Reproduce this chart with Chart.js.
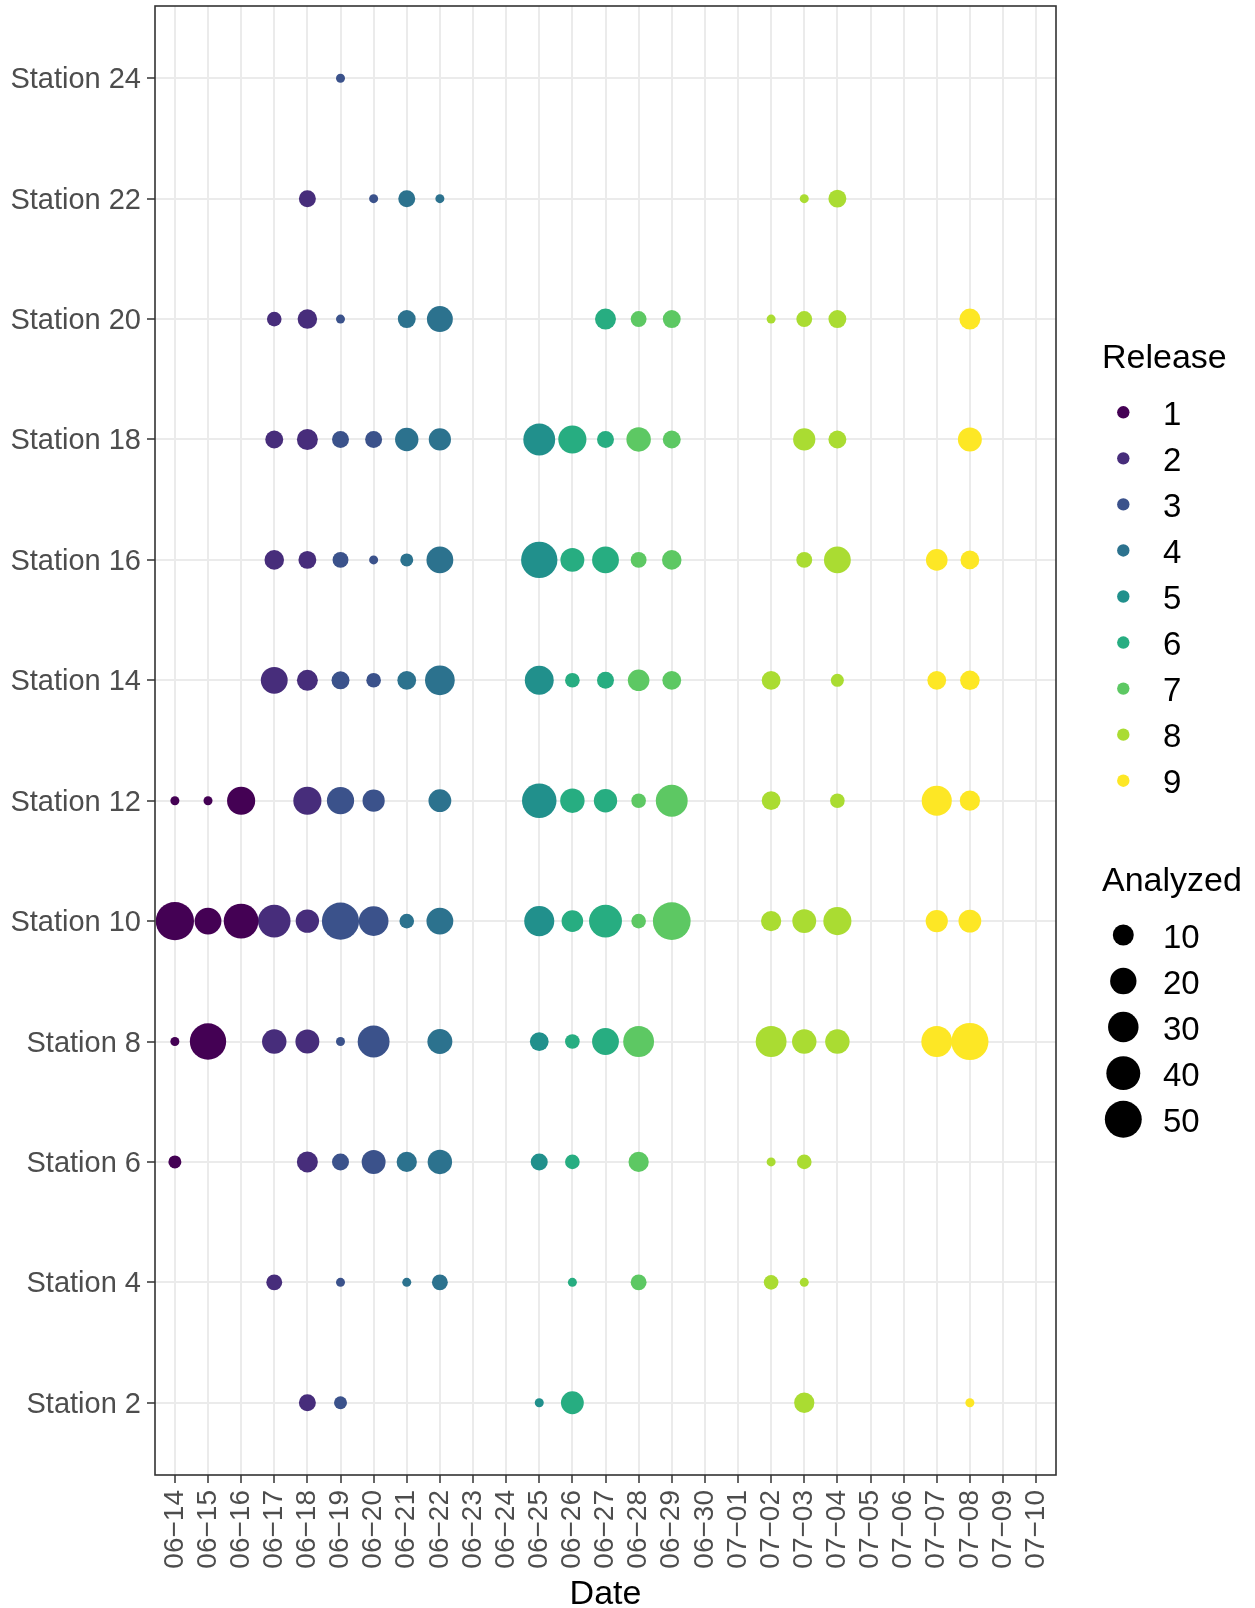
<!DOCTYPE html>
<html>
<head>
<meta charset="utf-8">
<script src="https://cdn.jsdelivr.net/npm/chart.js@4.4.0/dist/chart.umd.min.js"></script>
<style>
  html, body { margin: 0; padding: 0; background: #fff; }
  #wrap { width: 1255px; height: 1608px; }
</style>
</head>
<body>
<div id="wrap"><canvas id="chart" width="1255" height="1608"></canvas></div>
<script>
var NA = null;

var dates = [
  "06-14", "06-15", "06-16", "06-17", "06-18", "06-19", "06-20", "06-21", "06-22",
  "06-23", "06-24", "06-25", "06-26", "06-27", "06-28", "06-29", "06-30", "07-01",
  "07-02", "07-03", "07-04", "07-05", "07-06", "07-07", "07-08", "07-09", "07-10"
];

var stations = [
  "Station 2", "Station 4", "Station 6", "Station 8", "Station 10", "Station 12",
  "Station 14", "Station 16", "Station 18", "Station 20", "Station 22", "Station 24"
];

var releases = [1, 2, 3, 4, 5, 6, 7, 8, 9];
var releaseColors = [
  "#440154", "#472D7B", "#3B528B", "#2C728E", "#21908C",
  "#27AD81", "#5DC863", "#AADC32", "#FDE725"
];

// release that was sampled on each date (NA = nothing that day)
var dateRelease = [1, 1, 1, 2, 2, 3, 3, 4, 4, NA, NA, 5, 6, 6, 7, 7, NA, NA, 8, 8, 8, NA, NA, 9, 9, NA, NA];

// fish analyzed, one row per station (same order as stations), one value per date
var analyzed = [
  [NA, NA, NA, NA, 5, 2, NA, NA, NA, NA, NA, 1, 13, NA, NA, NA, NA, NA, NA, 9, NA, NA, NA, NA, 1, NA, NA],
  [NA, NA, NA, 4, NA, 1, NA, 1, 4, NA, NA, NA, 1, NA, 4, NA, NA, NA, 3, 1, NA, NA, NA, NA, NA, NA, NA],
  [2, NA, NA, NA, 10, 5, 15, 9, 16, NA, NA, 5, 3, NA, 9, NA, NA, NA, 1, 3, NA, NA, NA, NA, NA, NA, NA],
  [1, 48, NA, 16, 15, 1, 34, NA, 17, NA, NA, 7, 3, 21, 31, NA, NA, NA, 31, 16, 16, NA, NA, 31, 51, NA, NA],
  [55, 21, 43, 36, 14, 51, 28, 3, 21, NA, NA, 29, 11, 37, 3, 53, NA, NA, 9, 15, 24, NA, NA, 12, 13, NA, NA],
  [1, 1, 24, NA, 24, 22, 12, NA, 13, NA, NA, 42, 16, 14, 3, 34, NA, NA, 7, NA, 3, NA, NA, 29, 9, NA, NA],
  [NA, NA, NA, 21, 10, 6, 3, 7, 28, NA, NA, 26, 3, 5, 11, 7, NA, NA, 7, NA, 2, NA, NA, 7, 8, NA, NA],
  [NA, NA, NA, 8, 6, 4, 1, 2, 21, NA, NA, 48, 15, 21, 4, 8, NA, NA, NA, 4, 21, NA, NA, 11, 7, NA, NA],
  [NA, NA, NA, 6, 10, 5, 5, 14, 12, NA, NA, 34, 24, 5, 16, 6, NA, NA, NA, 12, 6, NA, NA, NA, 15, NA, NA],
  [NA, NA, NA, 3, 8, 1, NA, 6, 19, NA, NA, NA, NA, 10, 4, 6, NA, NA, 1, 4, 6, NA, NA, NA, 10, NA, NA],
  [NA, NA, NA, NA, 5, NA, 1, 5, 1, NA, NA, NA, NA, NA, NA, NA, NA, NA, NA, 1, 6, NA, NA, NA, NA, NA, NA],
  [NA, NA, NA, NA, NA, 1, NA, NA, NA, NA, NA, NA, NA, NA, NA, NA, NA, NA, NA, NA, NA, NA, NA, NA, NA, NA, NA]
];

var sizeBreaks = [10, 20, 30, 40, 50];

var FONT = "'Liberation Sans', Arial, Helvetica, sans-serif";

// area scale, like ggplot's scale_size: diameter 9..38.3 px
var flat = [].concat.apply([], analyzed).filter(function (v) { return v != null; });
var vMin = Math.min.apply(null, flat);
var vMax = Math.max.apply(null, flat);

function bubbleRadius(v) {
  var t = Math.sqrt((v - vMin) / (vMax - vMin));
  return (9 + t * 29.3) / 2;
}

var datasets = releases.map(function (rel, k) {
  var pts = [];
  analyzed.forEach(function (row, s) {
    row.forEach(function (v, d) {
      if (v != null && dateRelease[d] === rel) {
        pts.push({ x: d, y: s, r: bubbleRadius(v) });
      }
    });
  });
  return {
    label: String(rel),
    data: pts,
    backgroundColor: releaseColors[k],
    borderWidth: 0,
    hoverBorderWidth: 0,
    clip: 0
  };
});

var panelBorder = {
  id: "panelBorder",
  afterDatasetsDraw: function (chart) {
    var a = chart.chartArea;
    var ctx = chart.ctx;
    ctx.save();
    ctx.strokeStyle = "#333333";
    ctx.lineWidth = 1.6;
    ctx.strokeRect(a.left, a.top, a.right - a.left, a.bottom - a.top);
    ctx.restore();
  }
};

var legends = {
  id: "legends",
  afterDraw: function (chart) {
    var ctx = chart.ctx;
    var x0 = 1102, keyX = 1123.3, labelX = 1163, step = 46.05;
    ctx.save();
    ctx.textAlign = "left";
    ctx.textBaseline = "alphabetic";
    ctx.fillStyle = "#000000";
    ctx.font = "34px " + FONT;
    ctx.fillText("Release", x0, 368);
    ctx.fillText("Analyzed", x0, 891);

    ctx.font = "33px " + FONT;
    releases.forEach(function (rel, i) {
      var y = 412.3 + i * step;
      ctx.fillStyle = releaseColors[i];
      ctx.beginPath();
      ctx.arc(keyX, y, 6.2, 0, 2 * Math.PI);
      ctx.fill();
      ctx.fillStyle = "#000000";
      ctx.fillText(String(rel), labelX, y + 12.5);
    });

    sizeBreaks.forEach(function (b, i) {
      var y = 935 + i * step;
      ctx.fillStyle = "#000000";
      ctx.beginPath();
      ctx.arc(keyX, y, bubbleRadius(b), 0, 2 * Math.PI);
      ctx.fill();
      ctx.fillText(String(b), labelX, y + 12.5);
    });
    ctx.restore();
  }
};

var gridOpts = {
  color: "#EBEBEB",
  lineWidth: 2,
  tickColor: "#333333",
  tickWidth: 1.5,
  tickLength: 8
};

new Chart(document.getElementById("chart"), {
  type: "bubble",
  data: { datasets: datasets },
  options: {
    responsive: false,
    animation: false,
    devicePixelRatio: 1,
    layout: { autoPadding: false, padding: { top: 6, right: 199, bottom: 0, left: 0 } },
    plugins: {
      legend: { display: false },
      tooltip: { enabled: false }
    },
    events: [],
    scales: {
      x: {
        type: "linear",
        min: -0.6,
        max: 26.6,
        afterBuildTicks: function (s) {
          s.ticks = dates.map(function (d, i) { return { value: i }; });
        },
        afterFit: function (s) {
          s.height = 133;
          s.paddingLeft = 0;
          s.paddingRight = 0;
        },
        grid: gridOpts,
        border: { display: false },
        ticks: {
          autoSkip: false,
          minRotation: 90,
          maxRotation: 90,
          padding: 7,
          color: "#4D4D4D",
          font: { family: FONT, size: 28 },
          callback: function (v) { return dates[v].replace("-", "\u2212"); }
        },
        title: {
          display: true,
          text: "Date",
          color: "#000000",
          font: { family: FONT, size: 34, lineHeight: 1 },
          padding: { top: 0, bottom: -4 }
        }
      },
      y: {
        type: "linear",
        min: -0.6,
        max: 11.6,
        afterBuildTicks: function (s) {
          s.ticks = stations.map(function (st, i) { return { value: i }; });
        },
        afterFit: function (s) {
          s.width = 155;
          s.paddingTop = 0;
          s.paddingBottom = 0;
        },
        grid: gridOpts,
        border: { display: false },
        ticks: {
          padding: 6,
          labelOffset: 2,
          color: "#4D4D4D",
          font: { family: FONT, size: 29 },
          callback: function (v) { return stations[v]; }
        }
      }
    }
  },
  plugins: [panelBorder, legends]
});
</script>
</body>
</html>
